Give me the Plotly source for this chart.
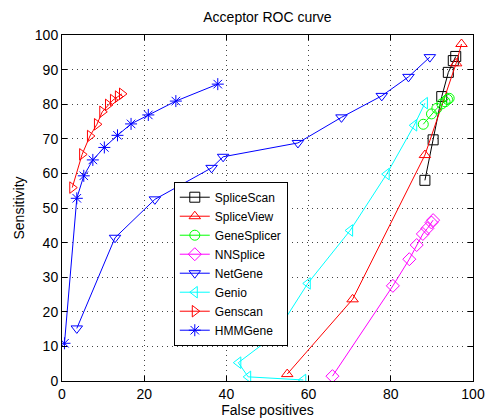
import plotly.graph_objects as go

splicescan_x = [88.3, 90.3, 92.4, 94.0, 95.2, 95.8]
splicescan_y = [58.0, 69.7, 82.2, 89.2, 92.6, 93.8]

spliceview_x = [54.8, 70.7, 88.3, 95.9, 97.2]
spliceview_y = [2.0, 23.6, 65.3, 91.8, 97.4]

genesplicer_x = [87.9, 89.9, 91.2, 92.4, 93.2, 93.8, 94.2]
genesplicer_y = [74.2, 77.2, 78.8, 80.1, 80.7, 81.4, 81.7]

nnsplice_x = [65.8, 80.5, 84.5, 86.3, 87.8, 88.9, 89.9, 90.3]
nnsplice_y = [1.4, 27.5, 35.2, 39.3, 42.5, 44.1, 45.8, 46.5]

netgene_x = [3.6, 12.9, 22.6, 36.4, 39.2, 57.4, 68.0, 77.8, 84.3, 89.5]
netgene_y = [15.2, 41.4, 52.5, 61.6, 64.8, 68.8, 76.2, 82.4, 87.9, 93.6]

genio_x = [58.7, 45.3, 42.9, 51.8, 59.8, 70.1, 79.0, 85.7, 88.3]
genio_y = [0.3, 1.2, 5.3, 13.3, 28.2, 43.5, 59.8, 73.9, 80.3]

genscan_x = [2.5, 4.9, 6.8, 8.5, 9.8, 11.2, 12.4, 13.6, 14.6]
genscan_y = [55.9, 65.5, 70.8, 74.2, 77.8, 79.8, 81.2, 82.2, 83.0]

hmmgene_x = [0.6, 3.6, 5.3, 7.5, 10.3, 13.5, 16.8, 21.0, 27.7, 37.9]
hmmgene_y = [10.9, 52.8, 59.3, 63.9, 67.5, 71.0, 74.3, 76.9, 80.9, 85.8]

series = [
    ("SpliceScan", splicescan_x, splicescan_y, "black", "square-open"),
    ("SpliceView", spliceview_x, spliceview_y, "red", "triangle-up-open"),
    ("GeneSplicer", genesplicer_x, genesplicer_y, "#00ff00", "circle-open"),
    ("NNSplice", nnsplice_x, nnsplice_y, "#ff00ff", "diamond-open"),
    ("NetGene", netgene_x, netgene_y, "blue", "triangle-down-open"),
    ("Genio", genio_x, genio_y, "cyan", "triangle-left-open"),
    ("Genscan", genscan_x, genscan_y, "red", "triangle-right-open"),
    ("HMMGene", hmmgene_x, hmmgene_y, "blue", "asterisk-open"),
]

fig = go.Figure()
for name, xs, ys, col, sym in series:
    fig.add_trace(go.Scatter(
        x=xs, y=ys, name=name, mode="lines+markers",
        line=dict(color=col, width=1),
        marker=dict(symbol=sym, size=10, color=col, line=dict(color=col, width=1)),
    ))

font = "Liberation Sans, Arial, Helvetica, sans-serif"
axis_common = dict(
    range=[0, 100], dtick=20, showgrid=True, gridcolor="#444444", griddash="1px,4px",
    gridwidth=1, showline=True, linecolor="black", linewidth=1, mirror="ticks",
    ticks="inside", ticklen=5, tickcolor="black", zeroline=False, automargin=False,
    tickfont=dict(size=14, color="black", family=font),
)
fig.update_layout(
    width=489, height=420,
    margin=dict(l=62, r=16, t=35, b=39, autoexpand=False),
    paper_bgcolor="white", plot_bgcolor="white",
    font=dict(family=font, size=13, color="black"),
    title=dict(text="Acceptor ROC curve", x=0.547, xanchor="center",
               yref="container", y=1 - 17 / 420, yanchor="middle",
               font=dict(size=14, color="black", family=font)),
    xaxis=dict(axis_common, title=dict(text="False positives", standoff=4, font=dict(size=14))),
    yaxis=dict(axis_common, dtick=10, title=dict(text="Sensitivity", standoff=6, font=dict(size=14))),
    legend=dict(x=0.272, y=0.576, xanchor="left", yanchor="top",
                bgcolor="white", bordercolor="black", borderwidth=1,
                font=dict(size=12, family=font), tracegroupgap=0, itemwidth=30),
    showlegend=True,
)
fig.write_html("out.html", config={"displayModeBar": False},
               post_script="document.body.style.margin='0';document.body.style.overflow='hidden';")
